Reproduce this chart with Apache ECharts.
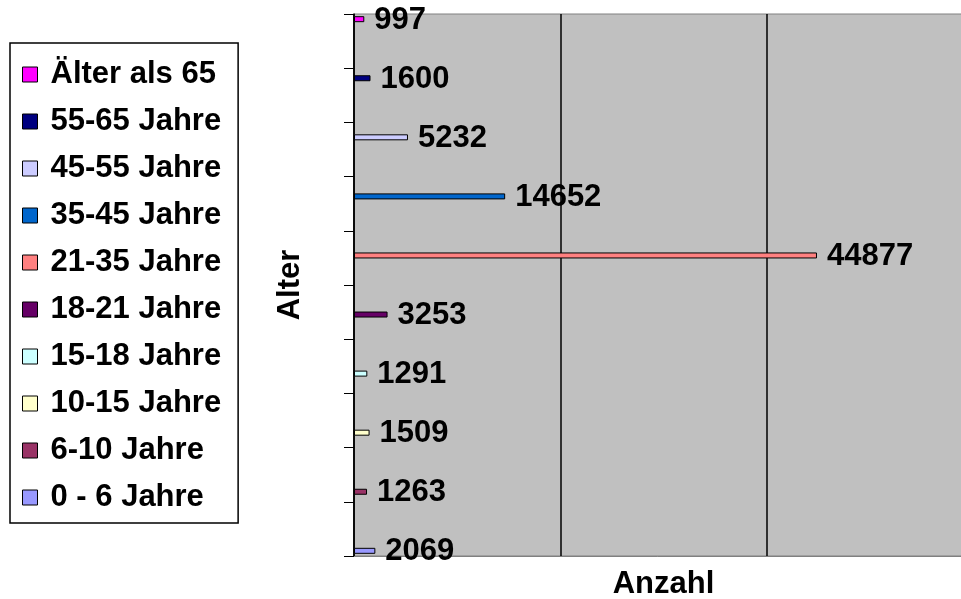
<!DOCTYPE html>
<html>
<head>
<meta charset="utf-8">
<script src="https://cdn.jsdelivr.net/npm/echarts@6/dist/echarts.min.js"></script>
<style>
html,body{margin:0;padding:0;background:#fff;}
#chart{width:961px;height:599px;}
</style>
</head>
<body>
<div id="chart"></div>
<script>
// Categories from bottom to top
var categories = ['0 - 6 Jahre','6-10 Jahre','10-15 Jahre','15-18 Jahre','18-21 Jahre','21-35 Jahre','35-45 Jahre','45-55 Jahre','55-65 Jahre','Älter als 65'];
var values = [2069, 1263, 1509, 1291, 3253, 44877, 14652, 5232, 1600, 997];
var colors = ['#9999FF','#993366','#FFFFCC','#CCFFFF','#660066','#FF8080','#0066CC','#CCCCFF','#000080','#FF00FF'];
var xTicks = [0, 20000, 40000, 60000];

var FONT = "'Liberation Sans', Arial, sans-serif";
var chart = echarts.init(document.getElementById('chart'), null, {renderer:'canvas'});

var series = [];
// reversed order so that first category's bar sits at the bottom of its slot
for (var k = categories.length - 1; k >= 0; k--) {
  (function(i){
    series.push({
      name: categories[i],
      type: 'bar',
      barWidth: 6,
      barGap: '-18.8%',
      data: categories.map(function(c, j){ return j === i ? values[i] : null; }),
      itemStyle: {color: colors[i], borderColor: '#000', borderWidth: 1},
      label: {
        show: true, position: 'right', distance: 10, offset: [0, 1],
        fontSize: 31, fontWeight: 'bold', color: '#000', fontFamily: FONT
      },
      emphasis: {disabled: true},
      animation: false
    });
  })(k);
}

var option = {
  animation: false,
  grid: {
    left: 354, right: -12, top: 14, bottom: 43,
    outerBoundsMode: 'none',
    containLabel: false,
    show: true, backgroundColor: '#C0C0C0', borderColor: '#808080', borderWidth: 1
  },
  legend: {
    orient: 'vertical',
    left: 10, top: 43,
    data: categories.slice().reverse(),
    icon: 'rect',
    itemWidth: 15, itemHeight: 15,
    itemGap: 16,
    padding: [16, 17, 10, 12],
    borderColor: '#000', borderWidth: 1.5,
    itemStyle: {borderColor: '#000', borderWidth: 1},
    textStyle: {fontSize: 31, fontWeight: 'bold', color: '#000', fontFamily: FONT, lineHeight: 31, padding: [0,0,0,8]},
    selectedMode: false
  },
  xAxis: {
    type: 'value',
    min: xTicks[0], max: xTicks[xTicks.length - 1], interval: xTicks[1] - xTicks[0],
    name: 'Anzahl', nameLocation: 'middle', nameGap: 13,
    nameTextStyle: {fontSize: 31, fontWeight: 'bold', color: '#000', fontFamily: FONT, lineHeight: 31},
    axisLabel: {show: false},
    axisTick: {show: false},
    axisLine: {show: true, lineStyle: {color: '#808080', width: 1}},
    splitLine: {show: true, lineStyle: {color: '#000', width: 1.5}}
  },
  yAxis: {
    type: 'category',
    data: categories,
    name: 'Alter', nameLocation: 'middle', nameGap: 48,
    nameTextStyle: {fontSize: 31, fontWeight: 'bold', color: '#000', fontFamily: FONT, lineHeight: 31},
    axisLabel: {show: false},
    axisTick: {show: true, length: 10, lineStyle: {color: '#000', width: 1}},
    axisLine: {show: true, lineStyle: {color: '#000', width: 1.5}},
    splitLine: {show: false}
  },
  series: series
};
chart.setOption(option);
</script>
</body>
</html>
